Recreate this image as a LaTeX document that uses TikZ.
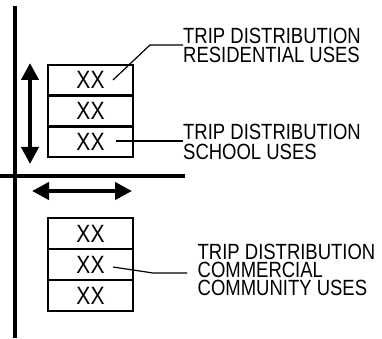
\documentclass[tikz,border=0pt]{standalone}
\usepackage{fontspec}
\usetikzlibrary{arrows.meta}
\newfontfamily\lblfont[FakeStretch=0.84]{Liberation Sans}
\begin{document}
\begin{tikzpicture}[x=1pt,y=-1pt,
  axis/.style={line width=3.6pt},
  dblarrow/.style={line width=4pt,{Triangle[length=17pt,width=17pt]}-{Triangle[length=17pt,width=17pt]}},
  row/.style={draw,line width=2.4pt,minimum width=85pt,inner sep=0pt,font=\lblfont\fontsize{25}{25}\selectfont},
  leader/.style={line width=1.2pt},
  lbl/.style={align=left,inner sep=0pt,anchor=base west,font=\lblfont\fontsize{22}{19.5}\selectfont}]
\useasboundingbox (0,0) rectangle (382,339);
% axes
\coordinate (vt) at (15,6);
\coordinate (vb) at (15,338);
\coordinate (hl) at (0,176);
\coordinate (hr) at (185,176);
\draw[axis] (vt) -- (vb);
\draw[axis] (hl) -- (hr);
% arrows
\coordinate (at) at (30,63);
\coordinate (ab) at (30,164);
\coordinate (al) at (32,191);
\coordinate (ar) at (132,191);
\draw[dblarrow] (at) -- (ab);
\draw[dblarrow] (al) -- (ar);
% top box
\node[row,minimum height=30.7pt] (t1) at (90.5,80.3) {XX};
\node[row,minimum height=30.7pt] (t2) at (90.5,111) {XX};
\node[row,minimum height=30.7pt] (t3) at (90.5,141.7) {XX};
% bottom box
\node[row,minimum height=31pt] (b1) at (90.5,233.5) {XX};
\node[row,minimum height=31pt] (b2) at (90.5,264.5) {XX};
\node[row,minimum height=31pt] (b3) at (90.5,295.5) {XX};
% labels (anchored at the baseline of the last line)
\node[lbl] (L1) at (183,62.8) {TRIP DISTRIBUTION\\RESIDENTIAL USES};
\node[lbl,font=\lblfont\fontsize{22}{20}\selectfont] (L2) at (183,159.3) {TRIP DISTRIBUTION\\SCHOOL USES};
\node[lbl,font=\lblfont\fontsize{22}{18}\selectfont] (L3) at (197.5,295) {TRIP DISTRIBUTION\\COMMERCIAL\\COMMUNITY USES};
% leaders
\coordinate (s1) at (113,80);
\coordinate (k1) at (150,45);
\coordinate (e1) at (183,45);
\draw[leader] (s1) -- (k1) -- (e1);
\coordinate (s2) at (116,141);
\coordinate (e2) at (183,141);
\draw[leader] (s2) -- (e2);
\coordinate (s3) at (113,267);
\coordinate (k3) at (153,273);
\coordinate (e3) at (187,273);
\draw[leader] (s3) -- (k3) -- (e3);
\end{tikzpicture}
\end{document}
